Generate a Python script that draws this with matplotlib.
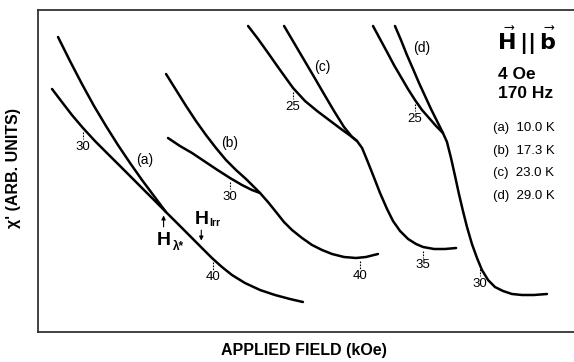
import numpy as np
import matplotlib
matplotlib.use('Agg')
import matplotlib.pyplot as plt

plt.rcParams['font.family'] = ['Liberation Sans', 'DejaVu Sans']

# ac susceptibility vs applied field, two sweep branches per temperature
# field in kOe, chi' in arbitrary units
H_a_up = [28.08, 29.0, 29.92, 30.85, 31.77, 32.69, 33.62, 34.54, 35.46, 36.38]
chi_a_up = [29.5, 27.1, 24.8, 22.6, 20.6, 18.7, 16.9, 15.2, 13.6, 12.0]
H_a_lo = [27.62, 28.38, 29.15, 30.0, 30.92, 31.92, 32.85, 33.85, 34.77, 35.62, 36.38,
          37.31, 38.23, 39.15, 39.92, 40.69, 41.46, 42.46, 43.62, 44.77, 45.92, 46.92]
chi_a_lo = [24.3, 23.0, 21.7, 20.4, 19.1, 17.8, 16.6, 15.3, 14.1, 13.0, 12.0,
            10.8, 9.6, 8.4, 7.4, 6.5, 5.7, 4.9, 4.2, 3.7, 3.3, 3.0]

H_b_up = [25.08, 25.85, 26.62, 27.38, 28.15, 28.92, 29.69, 30.46, 31.23, 31.85, 32.31]
chi_b_up = [25.8, 24.2, 22.6, 21.1, 19.7, 18.4, 17.2, 16.2, 15.3, 14.5, 13.9]
H_b_lo = [25.23, 26.15, 27.08, 28.0, 28.92, 30.0, 30.92, 31.69, 32.31, 32.92, 33.54,
          34.15, 34.77, 35.54, 36.31, 37.08, 37.85, 38.77, 39.69, 40.46, 41.38]
chi_b_lo = [19.4, 18.6, 17.9, 17.1, 16.3, 15.4, 14.7, 14.2, 13.9, 13.0, 12.0,
            11.0, 10.2, 9.4, 8.7, 8.2, 7.8, 7.5, 7.4, 7.5, 7.8]

H_c_up = [24.31, 25.08, 25.85, 26.62, 27.38, 28.15, 28.92, 29.54, 29.92]
chi_c_up = [30.6, 28.9, 27.2, 25.5, 23.8, 22.1, 20.5, 19.5, 19.1]
H_c_lo = [21.54, 22.31, 23.08, 24.0, 25.0, 25.92, 26.85, 27.77, 28.69, 29.54, 29.92,
          30.31, 30.69, 31.15, 31.69, 32.23, 32.69, 33.23, 33.85, 34.46, 35.0,
          35.85, 36.69, 37.54]
chi_c_lo = [30.6, 29.3, 27.9, 26.2, 24.4, 23.1, 22.1, 21.2, 20.3, 19.5, 19.1,
            18.4, 17.2, 15.7, 13.9, 12.3, 11.1, 10.1, 9.3, 8.8, 8.5,
            8.3, 8.3, 8.4]

H_d_up = [23.46, 23.92, 24.38, 24.85, 25.31, 25.77, 26.23, 26.69, 27.15]
chi_d_up = [30.6, 29.2, 27.7, 26.3, 24.9, 23.6, 22.3, 21.1, 19.9]
H_d_lo = [21.77, 22.31, 22.85, 23.38, 23.92, 24.46, 25.0, 25.54, 26.08, 26.62, 27.15,
          27.46, 27.77, 28.08, 28.38, 28.69, 29.0, 29.38, 29.77, 30.15, 30.62, 31.15,
          31.77, 32.46, 33.23, 34.15, 35.15]
chi_d_lo = [30.6, 29.3, 28.0, 26.7, 25.5, 24.3, 23.2, 22.2, 21.4, 20.6, 19.9,
            19.0, 17.4, 15.6, 13.8, 12.1, 10.5, 8.8, 7.4, 6.2, 5.2, 4.5,
            4.1, 3.8, 3.7, 3.7, 3.8]

names = ['a', 'b', 'c', 'd']
temps = ['10.0', '17.3', '23.0', '29.0']
# field values marked on each curve (kOe)
marks = [[30, 40], [30, 40], [25, 35], [25, 30]]
# H_lambda* and H_irr on curve (a)
h_lambda = 36.2
h_irr = 39.1

curves = [(H_a_up, chi_a_up, H_a_lo, chi_a_lo),
          (H_b_up, chi_b_up, H_b_lo, chi_b_lo),
          (H_c_up, chi_c_up, H_c_lo, chi_c_lo),
          (H_d_up, chi_d_up, H_d_lo, chi_d_lo)]
# horizontal shift of each curve so they don't overlap
shifts = [-26.54, -15.23, -5.38, 4.0]
# where the (a)..(d) tags go (shifted field, chi)
tag_pos = [(8.23, 17.2), (14.77, 18.9), (21.85, 26.5), (29.54, 28.4)]

fig = plt.figure(figsize=(5.74, 3.62), dpi=100)
ax = fig.add_axes([38/574, 30/362, 1 - 38/574, 322/362])
ax.set_xlim(0, 536/13.0)
ax.set_ylim(0, 32.2)

for i in range(4):
    Hu, cu, Hl, cl = curves[i]
    s = shifts[i]
    ax.plot(np.array(Hu) + s, cu, 'k', lw=1.8, solid_capstyle='round', solid_joinstyle='round')
    ax.plot(np.array(Hl) + s, cl, 'k', lw=1.8, solid_capstyle='round', solid_joinstyle='round')
    # dashed field markers under the curve
    for h in marks[i]:
        y = np.interp(h, Hl, cl)
        ax.plot([h + s, h + s], [y - 0.35, y - 1.1], 'k', lw=0.8, ls=(0, (1.5, 1.2)))
        ax.text(h + s, y - 1.85, str(h), ha='center', va='center', fontsize=9.5)
    ax.text(tag_pos[i][0], tag_pos[i][1], '(%s)' % names[i], ha='center', va='center', fontsize=10)

# arrows for H_lambda* and H_irr
s = shifts[0]
y = np.interp(h_lambda, H_a_lo, chi_a_lo)
ax.annotate('', xy=(h_lambda + s, y - 0.3), xytext=(h_lambda + s, y - 2.0),
            arrowprops=dict(arrowstyle='-|>', color='k', lw=0.8, mutation_scale=6))
ax.text(h_lambda + s, y - 3.05, 'H', ha='center', va='center', fontsize=14, fontweight='bold')
ax.text(h_lambda + s + 0.75, y - 3.75, 'λ*', ha='left', va='center', fontsize=8.5, fontweight='bold')
y = np.interp(h_irr, H_a_lo, chi_a_lo)
ax.annotate('', xy=(h_irr + s, y + 0.4), xytext=(h_irr + s, y + 2.0),
            arrowprops=dict(arrowstyle='-|>', color='k', lw=0.8, mutation_scale=6))
ax.text(h_irr + s, y + 2.75, 'H', ha='center', va='center', fontsize=14, fontweight='bold')
ax.text(h_irr + s + 0.6, y + 2.45, 'Irr', ha='left', va='center', fontsize=7.5, fontweight='bold')

# field direction, drive amplitude and frequency
ax.text(37.6, 29.1, r'$\vec{\mathbf{H}}\,\mathbf{||}\,\vec{\mathbf{b}}$', ha='center', va='center',
        fontsize=16)
ax.text(35.4, 25.8, '4 Oe', ha='left', va='center', fontsize=12.5, fontweight='bold')
ax.text(35.4, 23.8, '170 Hz', ha='left', va='center', fontsize=12.5, fontweight='bold')
for i in range(4):
    ax.text(35.0, 20.4 - 2.25*i, '(%s)  %s K' % (names[i], temps[i]), ha='left', va='center',
            fontsize=9.5)

ax.set_xticks([])
ax.set_yticks([])
ax.spines['right'].set_visible(False)
for sp in ['left', 'top', 'bottom']:
    ax.spines[sp].set_linewidth(1.3)
    ax.spines[sp].set_color('#333333')

fig.text(14/574, 1 - 168/362, "χ' (ARB. UNITS)", rotation=90, ha='center', va='center',
         fontsize=11.5, fontweight='bold')
fig.text(304/574, 12/362, 'APPLIED FIELD (kOe)', ha='center', va='center',
         fontsize=11.5, fontweight='bold')

fig.savefig('out.png', dpi=100)
